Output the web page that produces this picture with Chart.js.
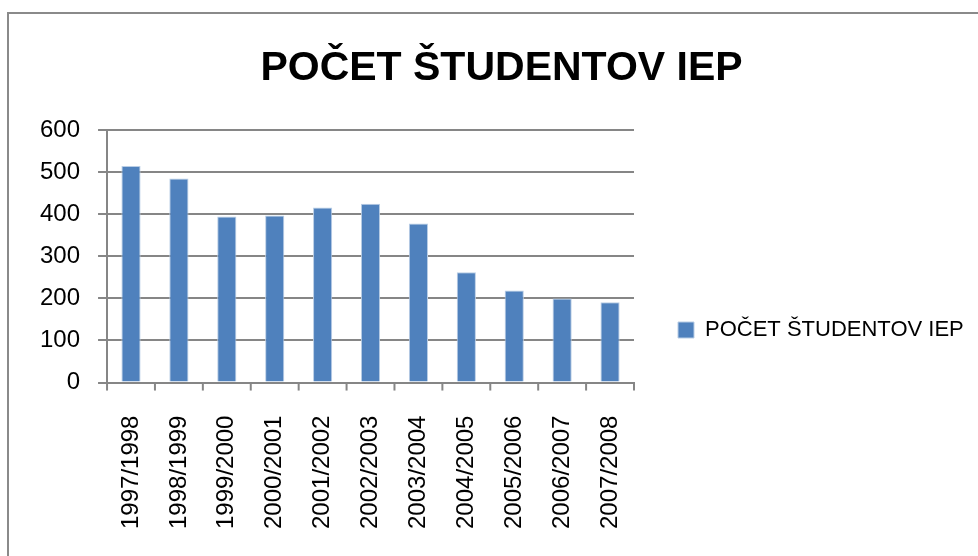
<!DOCTYPE html>
<html>
<head>
<meta charset="utf-8">
<script src="https://cdn.jsdelivr.net/npm/chart.js@4"></script>
<style>
    body { margin: 0; background: #fff; }
    .wrap { position: relative; width: 978px; height: 556px; overflow: hidden; }
    .frame { position: absolute; left: 7px; top: 12px; width: 1000px; height: 600px; border: 2px solid #8a8a8a; box-sizing: border-box; }
    canvas { position: absolute; left: 0; top: 0; }
</style>
</head>
<body>
<div class="wrap">
    <div class="frame"></div>
    <canvas id="chart" width="996" height="556"></canvas>
</div>
<script>
//data
const title = 'POČET ŠTUDENTOV IEP';
const years = ['1997/1998', '1998/1999', '1999/2000', '2000/2001', '2001/2002', '2002/2003',
    '2003/2004', '2004/2005', '2005/2006', '2006/2007', '2007/2008'];
const students = [515, 485, 395, 397, 416, 425, 378, 262, 219, 200, 191];
const yTicks = [0, 100, 200, 300, 400, 500, 600];

const gridColor = '#868686';
const font = 'Liberation Sans, Arial, sans-serif';
const legendWidth = 347;
const legendShift = 31;

const ctx = document.getElementById('chart');

new Chart(ctx, {
    type: 'bar',
    data: {
        labels: years,
        datasets: [{
            label: title,
            data: students,
            backgroundColor: '#4F81BD',
            borderColor: '#b9cde5',
            borderWidth: 1,
            barPercentage: 0.4,
            categoryPercentage: 1
        }]
    },
    options: {
        responsive: false,
        animation: false,
        layout: {
            padding: { left: 22, right: 15, top: 44, bottom: 2 }
        },
        plugins: {
            title: {
                display: true,
                text: title,
                color: '#000',
                font: { family: font, size: 41, weight: 'bold' },
                padding: { top: 0, bottom: 37 }
            },
            legend: {
                position: 'right',
                labels: {
                    color: '#000',
                    font: { family: font, size: 22 },
                    boxWidth: 16,
                    boxHeight: 16,
                    padding: 44
                }
            },
            tooltip: { enabled: false }
        },
        scales: {
            x: {
                grid: { display: false },
                border: { color: gridColor, width: 2 },
                ticks: {
                    color: '#000',
                    font: { family: font, size: 24 },
                    minRotation: 90,
                    maxRotation: 90,
                    padding: 25
                }
            },
            y: {
                min: 0,
                max: 600,
                afterBuildTicks: (axis) => {
                    axis.ticks = yTicks.map(v => ({ value: v }));
                },
                grid: { color: gridColor, lineWidth: 2, tickLength: 9 },
                border: { color: gridColor, width: 2 },
                ticks: {
                    color: '#000',
                    font: { family: font, size: 24 },
                    padding: 18
                }
            }
        }
    },
    plugins: [{
        // the legend gets more room than chart.js allows a side box
        id: 'wideLegend',
        beforeLayout(chart) {
            const lg = chart.legend;
            if (lg && !lg._wide) {
                const fit = lg.fit;
                lg.fit = function () {
                    fit.call(this);
                    this.width = legendWidth;
                };
                lg._wide = true;
            }
        },
        afterLayout(chart) {
            //legend sits a bit lower in the original
            chart.legend.top += legendShift;
            chart.legend.bottom += legendShift;
        }
    }, {
        // category tick marks between bars, like the original
        id: 'xTicks',
        afterDraw(chart) {
            const c = chart.ctx;
            const x = chart.scales.x;
            const bottom = chart.chartArea.bottom;
            c.save();
            c.strokeStyle = gridColor;
            c.lineWidth = 2;
            for (let i = 0; i <= years.length; i++) {
                const px = x.left + (x.right - x.left) * i / years.length;
                c.beginPath();
                c.moveTo(px, bottom);
                c.lineTo(px, bottom + 8);
                c.stroke();
            }
            c.restore();
        }
    }]
});
</script>
</body>
</html>
